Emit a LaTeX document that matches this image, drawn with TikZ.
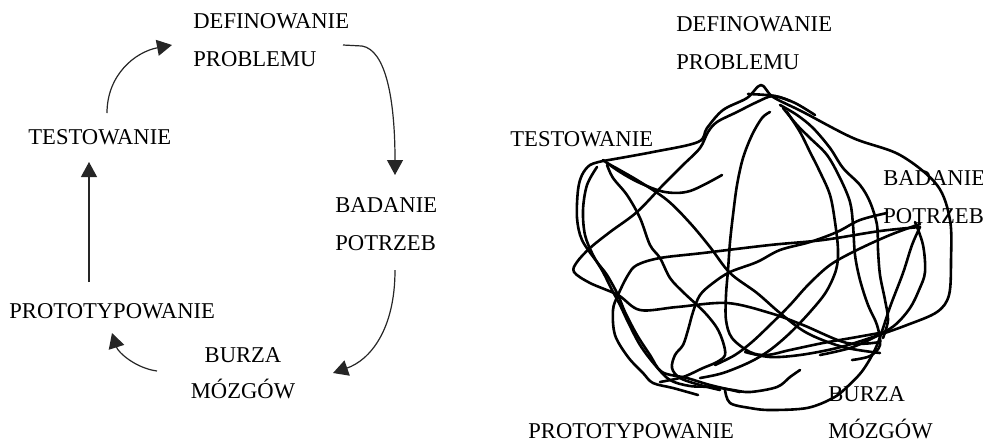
\documentclass[tikz,border=0pt]{standalone}
\usepackage{fontspec}
\setmainfont{Liberation Serif}
\usetikzlibrary{arrows.meta}
\begin{document}
\begin{tikzpicture}[x=0.5pt,y=-0.5pt,
  lbl/.style={inner sep=0pt, font=\fontsize{11.3}{13}\selectfont},
  arr/.style={-{Triangle[length=7.5pt,width=8pt]}, line width=0.6pt, black!85},
  scrib/.style={line width=1.3pt, line join=round, line cap=round}]
\useasboundingbox (0,0) rectangle (983,440);

% ---------- left: linear cycle ----------
\node[lbl, anchor=base west] (defA) at (193,28) {DEFINOWANIE};
\node[lbl, anchor=base west] (probA) at (193,66) {PROBLEMU};
\node[lbl, anchor=base west] (testA) at (28,144) {TESTOWANIE};
\node[lbl, anchor=base west] (badA) at (335,212) {BADANIE};
\node[lbl, anchor=base west] (potA) at (335,250) {POTRZEB};
\node[lbl, anchor=base west] (protA) at (9,318) {PROTOTYPOWANIE};
\node[lbl, anchor=base] (burA) at (243,362) {BURZA};
\node[lbl, anchor=base] (mozA) at (243,398) {MÓZGÓW};

\coordinate (testOut) at (107,113);
\coordinate (defIn) at (172,45);
\coordinate (defOut) at (343,45);
\coordinate (badIn) at (395,175);
\coordinate (potOut) at (395,270);
\coordinate (burIn) at (333,373);
\coordinate (burOut) at (157,371);
\coordinate (protIn) at (112,333);
\coordinate (protOut) at (89,282);
\coordinate (testIn) at (89,162);

\draw[arr] (testOut) .. controls (107,75) and (135,52) .. (defIn);
\draw[arr] (defOut) -- (362,46) .. controls (386,50) and (395,100) .. (badIn);
\draw[arr] (potOut) .. controls (395,330) and (370,360) .. (burIn);
\draw[arr] (burOut) .. controls (135,368) and (118,352) .. (protIn);
\draw[arr] (protOut) -- (testIn);

% ---------- right: tangled process ----------
\node[lbl, anchor=base west] (defB) at (676,31) {DEFINOWANIE};
\node[lbl, anchor=base west] (probB) at (676,69) {PROBLEMU};
\node[lbl, anchor=base west] (testB) at (510,146) {TESTOWANIE};
\node[lbl, anchor=base west] (badB) at (883,185) {BADANIE};
\node[lbl, anchor=base west] (potB) at (883,223) {POTRZEB};
\node[lbl, anchor=base west] (protB) at (528,438) {PROTOTYPOWANIE};
\node[lbl, anchor=base west] (burB) at (828,401) {BURZA};
\node[lbl, anchor=base west] (mozB) at (828,438) {MÓZGÓW};

\begin{scope}[scrib]
% outer loop through apex and right side
\draw plot[smooth, tension=0.55] coordinates {(603,161) (653,152) (698,142) (707,128) (723,110) (747,98) (761,85) (773,97) (803,112) (853,138) (900,155) (937,185) (950,220) (951,260) (949,295) (937,312) (907,325) (870,338) (837,348) (800,355) (770,357) (745,352)};
% apex diagonal to left hook
\draw plot[smooth, tension=0.55] coordinates {(790,101) (773,96) (757,102) (737,112) (717,122) (708,132) (700,148) (683,165) (663,185) (637,212) (610,232) (590,248) (577,262) (574,272) (590,283) (618,295) (640,310) (677,307) (727,303) (770,313) (803,325) (847,343) (880,342)};
% short hook
\draw plot[smooth, tension=0.55] coordinates {(603,160) (620,172) (640,183) (665,192) (690,191) (722,175)};
% long diagonal
\draw plot[smooth, tension=0.55] coordinates {(607,163) (637,180) (667,200) (690,223) (710,247) (730,273) (757,293) (780,313) (807,333) (843,347) (880,353)};
% down and curl back
\draw plot[smooth, tension=0.55] coordinates {(607,165) (613,178) (627,195) (640,218) (650,245) (660,258) (670,278) (683,292) (697,305) (707,315) (717,328) (723,342) (725,355) (717,362) (703,368) (683,377) (660,382)};
% left loop
\draw plot[smooth, tension=0.55] coordinates {(603,161) (590,165) (582,175) (578,190) (577,218) (582,240) (597,262) (607,275) (618,295) (625,312) (637,335) (650,355) (662,372) (687,378) (710,385) (740,392)};
% tail
\draw plot[smooth, tension=0.55] coordinates {(698,395) (673,388) (653,383) (643,373) (628,357) (615,335) (613,310) (618,295) (628,275) (637,265) (660,258) (703,253) (770,245) (823,240) (880,231) (920,227)};
% middle vertical to inner U
\draw plot[smooth, tension=0.55] coordinates {(770,112) (762,118) (752,135) (743,158) (737,185) (733,215) (730,242) (728,270) (726,295) (726,320) (732,338) (750,352) (767,355) (790,350) (823,343) (857,337) (885,332)};
% three strands down right
\draw plot[smooth, tension=0.55] coordinates {(780,105) (797,115) (813,128) (830,148) (843,168) (860,185) (870,202) (877,225) (878,250) (880,275) (885,300) (888,320) (883,338)};
\draw plot[smooth, tension=0.55] coordinates {(783,108) (797,125) (810,138) (827,155) (840,178) (850,202) (853,225) (855,255) (860,280) (868,305) (877,325) (880,345) (870,356) (852,360)};
\draw plot[smooth, tension=0.55] coordinates {(787,112) (800,132) (810,152) (820,172) (830,195) (835,222) (838,250) (836,270) (826,292) (810,312) (790,333) (770,350) (750,362) (723,373) (700,378)};
% bottom line up to right junction
\draw plot[smooth, tension=0.55] coordinates {(725,390) (730,403) (750,408) (770,410) (807,408) (833,398) (847,387) (863,370) (877,345) (890,307) (903,273) (912,245) (920,227)};
% from POTRZEB down into bottom left
\draw plot[smooth, tension=0.55] coordinates {(887,213) (860,220) (837,232) (810,242) (780,250) (757,262) (730,272) (713,283) (700,295) (693,312) (688,330) (683,345) (675,355) (672,368) (680,378) (700,385) (720,390)};
% junction to middle
\draw plot[smooth, tension=0.55] coordinates {(920,224) (890,235) (857,250) (830,265) (808,285) (790,305) (770,325) (752,342) (735,355) (715,365)};
% left double strand
\draw plot[smooth, tension=0.55] coordinates {(597,167) (587,185) (583,210) (585,235) (593,255) (603,272) (612,290) (620,305) (628,322) (640,345) (655,365) (670,380) (690,386) (713,387) (733,390) (750,392) (777,387) (790,377) (800,370)};
% right strand below junction
\draw plot[smooth, tension=0.55] coordinates {(915,222) (923,245) (925,272) (919,290) (910,308) (895,325) (875,337) (850,348) (820,355)};
% short stroke at apex
\draw plot[smooth, tension=0.55] coordinates {(748,94) (775,96) (795,103) (815,115)};
\end{scope}
\end{tikzpicture}
\end{document}
